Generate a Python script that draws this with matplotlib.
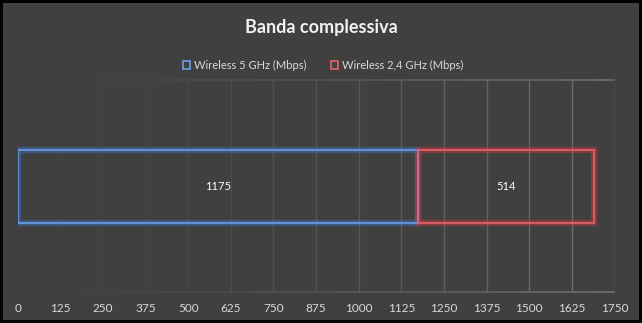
import numpy as np
import matplotlib
matplotlib.use("Agg")
import matplotlib.pyplot as plt
from matplotlib.collections import LineCollection
from matplotlib.colors import to_rgb

# dati
categories = ["Banda"]
series_names = ["Wireless 5 GHz (Mbps)", "Wireless 2,4 GHz (Mbps)"]
values_5ghz = [1175]
values_24ghz = [514]
x_ticks = [0, 125, 250, 375, 500, 625, 750, 875, 1000, 1125, 1250, 1375, 1500, 1625, 1750]

bg = "#404040"
txt = "#d9d9d9"
edge_colors = ["#6b9ee6", "#e8626a"]
glow_colors = ["#3f6fb8", "#c0393f"]

plt.rcParams['font.family'] = ['Lato', 'DejaVu Sans']

fig = plt.figure(figsize=(6.42, 3.23), dpi=100)
fig.patch.set_facecolor(bg)
fig.patch.set_edgecolor("black")
fig.patch.set_linewidth(3)

ax = fig.add_axes([0.0274, 0.096, 0.9298, 0.6554])
ax.set_facecolor(bg)
ax.set_xlim(0, 1750)
ax.set_ylim(-0.5, 0.5)

# griglia con sfumatura (più chiara a destra)
def shade(t):
    a = np.array(to_rgb(bg))
    b = np.array(to_rgb("#707070"))
    t = max(0.0, min(1.0, t))
    return tuple(a + (b - a) * t)

for xv in x_ticks[1:]:
    ax.axvline(xv, color=shade((xv / 1750) ** 1.3), lw=1, zorder=0)

xs = np.linspace(0, 1750, 200)
for yv in (-0.5, 0.5):
    segs = [[(xs[i], yv), (xs[i + 1], yv)] for i in range(len(xs) - 1)]
    cols = [shade((xs[i] / 1750) ** 1.3) for i in range(len(xs) - 1)]
    lc = LineCollection(segs, colors=cols, lw=1.2, zorder=0, clip_on=False)
    ax.add_collection(lc)

for s in ax.spines.values():
    s.set_visible(False)

y = np.arange(len(categories))
lefts = [np.zeros(len(categories)), np.array(values_5ghz)]
vals = [values_5ghz, values_24ghz]
handles = []
for i in range(2):
    # alone
    ax.barh(y, vals[i], left=lefts[i], height=0.345, facecolor="none",
            edgecolor=glow_colors[i], lw=4.5, alpha=0.5, zorder=2)
    h = ax.barh(y, vals[i], left=lefts[i], height=0.345, facecolor="none",
                edgecolor=edge_colors[i], lw=1.2, zorder=3, label=series_names[i])
    handles.append(h)
    for yy, l, v in zip(y, lefts[i], vals[i]):
        ax.text(l + v / 2, yy, str(v), ha="center", va="center",
                color="white", fontsize=8)

ax.set_yticks([])
ax.set_xticks(x_ticks)
ax.set_xticklabels([str(t) for t in x_ticks], color=txt, fontsize=8.5)
ax.tick_params(axis="x", length=0, pad=8)

fig.suptitle("Banda complessiva", color="#f2f2f2", fontsize=13,
             fontweight="bold", y=0.94)

leg = fig.legend(handles=handles, labels=series_names, loc="center",
                 bbox_to_anchor=(0.503, 0.797), ncol=2, frameon=False,
                 fontsize=8, handlelength=0.7, handleheight=0.7,
                 handletextpad=0.3, columnspacing=2.2)
for t in leg.get_texts():
    t.set_color(txt)

fig.savefig("out.png", dpi=100, facecolor=bg, edgecolor="black")
